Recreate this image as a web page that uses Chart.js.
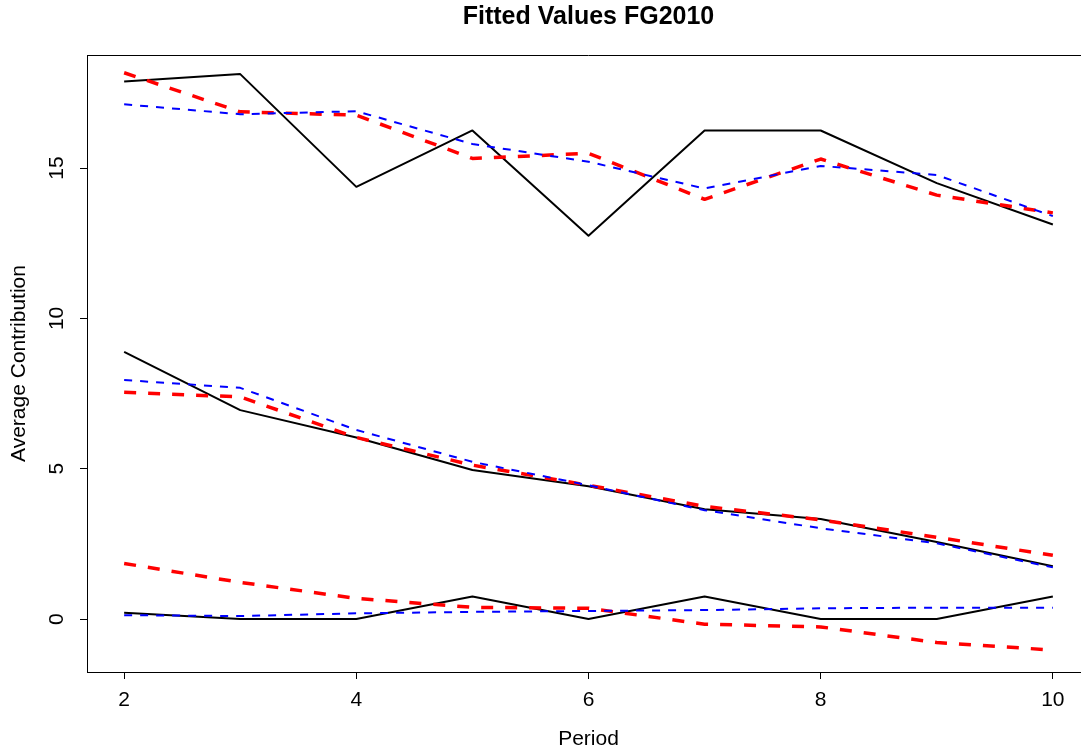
<!DOCTYPE html>
<html>
<head>
<meta charset="utf-8">
<title>Fitted Values FG2010</title>
<script src="https://cdn.jsdelivr.net/npm/chart.js@4/dist/chart.umd.min.js"></script>
<style>
    html, body { margin: 0; padding: 0; background: #ffffff; overflow: hidden; }
    #wrap { width: 1090px; height: 750px; }
</style>
</head>
<body>
<div id="wrap"><canvas id="chart" width="1090" height="750"></canvas></div>
<script>
// periods and tick labels
const periods = [2, 3, 4, 5, 6, 7, 8, 9, 10];
const xTicks = [2, 4, 6, 8, 10];
const yTicks = [0, 5, 10, 15];

// observed averages (black) and the two fitted series (red, blue), three groups
const obsHigh = [17.875, 18.125, 14.375, 16.25, 12.75, 16.25, 16.25, 14.5, 13.125];
const redHigh = [18.17, 16.87, 16.76, 15.32, 15.49, 13.96, 15.30, 14.10, 13.51];
const blueHigh = [17.12, 16.79, 16.89, 15.80, 15.21, 14.32, 15.07, 14.77, 13.40];

const obsMid = [8.89, 6.95, 6.04, 4.96, 4.42, 3.65, 3.33, 2.56, 1.76];
const redMid = [7.54, 7.39, 6.04, 5.12, 4.45, 3.75, 3.30, 2.72, 2.12];
const blueMid = [7.95, 7.69, 6.29, 5.23, 4.45, 3.62, 3.02, 2.52, 1.72];

const obsLow = [0.21, 0, 0, 0.75, 0, 0.75, 0, 0, 0.75];
const redLow = [1.85, 1.22, 0.69, 0.39, 0.36, -0.17, -0.26, -0.78, -1.03];
const blueLow = [0.13, 0.10, 0.19, 0.24, 0.27, 0.30, 0.36, 0.38, 0.38];

const font = '"Liberation Sans", Arial, Helvetica, sans-serif';

function pts(vals) {
    return periods.map((p, i) => ({ x: p, y: vals[i] }));
}

function blue(vals) {
    return { data: pts(vals), borderColor: '#0000ff', borderWidth: 2, borderDash: [8, 8] };
}
function red(vals) {
    return { data: pts(vals), borderColor: '#ff0000', borderWidth: 3.5, borderDash: [12, 12] };
}
function black(vals) {
    return { data: pts(vals), borderColor: '#000000', borderWidth: 2 };
}

// top edge of the box and the rotated y tick labels (R style)
const rStyle = {
    id: 'rStyle',
    afterDraw(chart) {
        const ctx = chart.ctx;
        const a = chart.chartArea;
        ctx.save();
        ctx.strokeStyle = '#000000';
        ctx.lineWidth = 1;
        ctx.beginPath();
        ctx.moveTo(Math.round(a.left), Math.round(a.top) + 0.5);
        ctx.lineTo(Math.round(a.right), Math.round(a.top) + 0.5);
        ctx.stroke();
        ctx.fillStyle = '#000000';
        ctx.font = '21px ' + font;
        ctx.textAlign = 'center';
        ctx.textBaseline = 'alphabetic';
        yTicks.forEach(v => {
            const py = chart.scales.y.getPixelForValue(v);
            ctx.save();
            ctx.translate(63, py);
            ctx.rotate(-Math.PI / 2);
            ctx.fillText(String(v), 0, 0);
            ctx.restore();
        });
        ctx.restore();
    }
};

const chart = new Chart(document.getElementById('chart').getContext('2d'), {
    type: 'line',
    data: {
        datasets: [
            blue(blueHigh), blue(blueMid), blue(blueLow),
            red(redHigh), red(redMid), red(redLow),
            black(obsHigh), black(obsMid), black(obsLow)
        ]
    },
    options: {
        responsive: false,
        animation: false,
        devicePixelRatio: 1,
        // the plot region runs a little past the right edge of the window, as in the original
        layout: { autoPadding: false, padding: 0 },
        elements: {
            point: { radius: 0, hoverRadius: 0 },
            line: { tension: 0, fill: false, borderJoinStyle: 'round', borderCapStyle: 'butt' }
        },
        plugins: {
            legend: { display: false },
            tooltip: { enabled: false },
            title: {
                display: true,
                text: 'Fitted Values FG2010',
                color: '#000000',
                fullSize: false,
                padding: { top: 5, bottom: 25 },
                font: { family: font, size: 25, weight: 'bold', lineHeight: 1 }
            }
        },
        scales: {
            x: {
                type: 'linear',
                min: 1.68,
                max: 10.32,
                afterBuildTicks: scale => { scale.ticks = xTicks.map(v => ({ value: v })); },
                grid: { drawOnChartArea: false, tickLength: 7, color: '#000000' },
                border: { display: true, color: '#000000', width: 1 },
                ticks: {
                    color: '#000000',
                    padding: 9,
                    maxRotation: 0,
                    autoSkip: false,
                    font: { family: font, size: 21, lineHeight: 1.2 }
                },
                title: {
                    display: true,
                    text: 'Period',
                    color: '#000000',
                    padding: { top: 6.3, bottom: 0.5 },
                    font: { family: font, size: 21, lineHeight: 1 }
                }
            },
            y: {
                type: 'linear',
                min: -1.76,
                max: 18.76,
                afterBuildTicks: scale => { scale.ticks = yTicks.map(v => ({ value: v })); },
                grid: { drawOnChartArea: false, tickLength: 7, color: '#000000' },
                border: { display: true, color: '#000000', width: 1 },
                ticks: { display: false },
                title: {
                    display: true,
                    text: 'Average Contribution',
                    color: '#000000',
                    padding: { top: 9, bottom: 50 },
                    font: { family: font, size: 21, lineHeight: 1 }
                }
            }
        }
    },
    plugins: [rStyle]
});
</script>
</body>
</html>
